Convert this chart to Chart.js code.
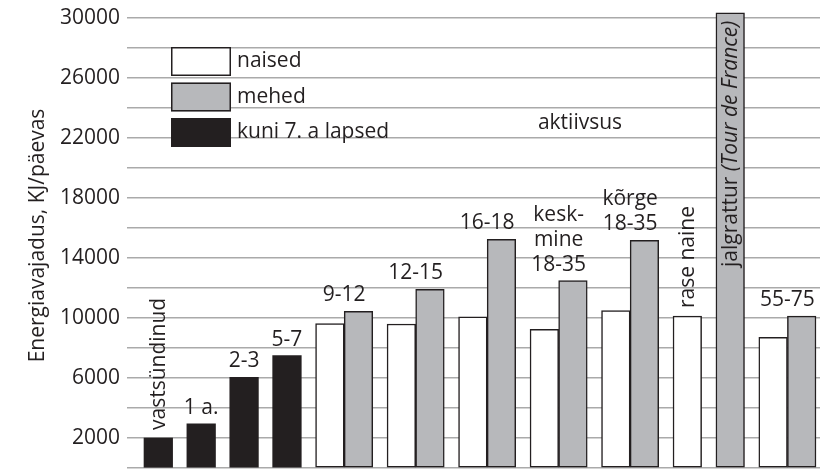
<!DOCTYPE html>
<html>
<head>
<meta charset="utf-8">
<script src="https://cdn.jsdelivr.net/npm/chart.js@4/dist/chart.umd.min.js"></script>
<style>
html,body{margin:0;padding:0;background:#fff;}
#wrap{width:820px;height:470px;}
</style>
</head>
<body>
<div id="wrap"><canvas id="c" width="820" height="470"></canvas></div>
<script>
// ---- data ----
const groupLabels = ['vastsündinud', '1 a.', '2-3', '5-7', '9-12', '12-15', '16-18',
  'kesk-\nmine\n18-35', 'kõrge\n18-35', 'rase naine', 'jalgrattur (Tour de France)', '55-75'];
const lapsed = [2000, 2950, 6050, 7500, null, null, null, null, null, null, null, null];
const naised = [null, null, null, null, 9620, 9600, 10070, 9250, 10490, 10130, null, 8710];
const mehed  = [null, null, null, null, 10450, 11910, 15250, 12490, 15180, null, 30350, 10130];
const seriesNames = ['kuni 7. a lapsed', 'naised', 'mehed'];
const legendOrder = ['naised', 'mehed', 'kuni 7. a lapsed'];
const yTicks = [0, 2000, 4000, 6000, 8000, 10000, 12000, 14000, 16000, 18000, 20000, 22000, 24000, 26000, 28000, 30000];
const yTickLabels = ['2000', '6000', '10000', '14000', '18000', '22000', '26000', '30000'];
const axisTitle = 'Energiavajadus, KJ/päevas';
const noteText = 'aktiivsus';

// ---- styling ----
const INK = '#231f20';
const GRAY = '#b7b8bb';
const FONT = 'Open Sans';
const FS = 21;
const fills = { 'kuni 7. a lapsed': INK, 'naised': '#ffffff', 'mehed': GRAY };
const verticalLabels = { 0: true, 9: true };
const insideLabels = { 10: true };

// bar slots: each bar takes 2 units, each group is followed by a 1 unit gap
const series = [lapsed, naised, mehed];
const points = [[], [], []];
let unit = 0;
groupLabels.forEach((_, i) => {
  series.forEach((s, k) => {
    if (s[i] !== null && s[i] !== undefined) {
      points[k].push({ x: unit + 1, y: s[i], g: i });
      unit += 2;
    }
  });
  unit += 1;
});
const lastUnit = unit - 1;

const datasets = series.map((s, k) => ({
  label: seriesNames[k],
  data: points[k],
  backgroundColor: fills[seriesNames[k]],
  borderColor: INK,
  borderWidth: seriesNames[k] === 'kuni 7. a lapsed' ? 0 : 1.5,
  borderSkipped: false,
  grouped: false,
  barPercentage: 1,
  categoryPercentage: 1
}));

const annotate = {
  id: 'annotate',
  afterDatasetsDraw(chart) {
    const ctx = chart.ctx;
    ctx.save();
    ctx.fillStyle = INK;
    const font = FS + 'px "' + FONT + '"';
    const ifont = 'italic ' + FS + 'px "' + FONT + '"';
    // group labels
    groupLabels.forEach((lab, i) => {
      const els = [];
      points.forEach((pts, k) => {
        const meta = chart.getDatasetMeta(k);
        pts.forEach((p, j) => { if (p.g === i) els.push(meta.data[j]); });
      });
      if (!els.length) return;
      const cx = els.reduce((a, e) => a + e.x, 0) / els.length;
      const top = Math.min(...els.map(e => e.y));
      ctx.font = font;
      if (insideLabels[i]) {
        const m = lab.indexOf('(');
        const p1 = lab.slice(0, m), p2 = lab.slice(m);
        ctx.font = font; const w1 = ctx.measureText(p1).width;
        ctx.font = ifont; const w2 = ctx.measureText(p2).width;
        ctx.save();
        ctx.translate(cx, top + 8);
        ctx.rotate(-Math.PI / 2);
        ctx.textBaseline = 'middle';
        ctx.textAlign = 'left';
        ctx.font = font; ctx.fillText(p1, -(w1 + w2), 1);
        ctx.font = ifont; ctx.fillText(p2, -w2, 1);
        ctx.restore();
      } else if (verticalLabels[i]) {
        ctx.save();
        ctx.translate(cx, top - 8);
        ctx.rotate(-Math.PI / 2);
        ctx.textBaseline = 'middle';
        ctx.textAlign = 'left';
        ctx.fillText(lab, 0, 1);
        ctx.restore();
      } else {
        const lines = lab.split('\n');
        ctx.textAlign = 'center';
        ctx.textBaseline = 'alphabetic';
        lines.forEach((ln, li) => {
          ctx.fillText(ln, cx, top - 10 - (lines.length - 1 - li) * 25);
        });
      }
    });
    // note text
    ctx.font = font;
    ctx.textAlign = 'center';
    ctx.textBaseline = 'middle';
    ctx.fillText(noteText, 580, 123);
    // legend
    const bx = 171, bw = 60, bh = 29;
    const bys = [47, 82.5, 118];
    legendOrder.forEach((name, n) => {
      const y = bys[n];
      ctx.fillStyle = fills[name];
      ctx.fillRect(bx, y, bw, bh);
      if (name !== 'kuni 7. a lapsed') {
        ctx.strokeStyle = INK;
        ctx.lineWidth = 1.5;
        ctx.strokeRect(bx + 0.75, y + 0.75, bw - 1.5, bh - 1.5);
      }
      ctx.fillStyle = INK;
      ctx.textAlign = 'left';
      ctx.textBaseline = 'middle';
      ctx.fillText(name, bx + bw + 6, y + bh / 2);
    });
    ctx.restore();
  }
};

function build() {
  new Chart(document.getElementById('c'), {
    type: 'bar',
    data: { datasets },
    options: {
      responsive: false,
      animation: false,
      devicePixelRatio: 1,
      layout: { autoPadding: false, padding: { top: 3, bottom: 2, left: 0, right: 0 } },
      plugins: { legend: { display: false }, tooltip: { enabled: false } },
      scales: {
        x: {
          type: 'linear',
          display: false,
          offset: false,
          min: -0.28,
          max: lastUnit + 0.28,
          afterBuildTicks: s => { s.ticks = []; },
          afterFit: s => { s.paddingLeft = 0; s.paddingRight = 0; s.paddingTop = 0; s.paddingBottom = 0; },
          grid: { display: false }
        },
        y: {
          min: 0,
          max: 31000,
          afterBuildTicks: s => { s.ticks = yTicks.map(v => ({ value: v })); },
          afterFit: s => { s.width = 140; s.paddingTop = 0; s.paddingBottom = 0; s.paddingLeft = 0; s.paddingRight = 0; },
          border: { display: false },
          grid: { color: '#aaaaaa', lineWidth: 1.5, tickLength: 13, drawTicks: true },
          ticks: {
            autoSkip: false,
            padding: 7,
            color: INK,
            font: { family: FONT, size: FS },
            callback: v => (yTickLabels.includes(String(v)) ? String(v) : '')
          },
          title: {
            display: true,
            text: axisTitle,
            color: INK,
            font: { family: FONT, size: FS },
            padding: { top: 25, bottom: 0 }
          }
        }
      }
    },
    plugins: [annotate]
  });
}

const fontLoads = [document.fonts.load(FS + 'px "' + FONT + '"'), document.fonts.load('italic ' + FS + 'px "' + FONT + '"')];
Promise.all(fontLoads).then(build, build);
</script>
</body>
</html>
